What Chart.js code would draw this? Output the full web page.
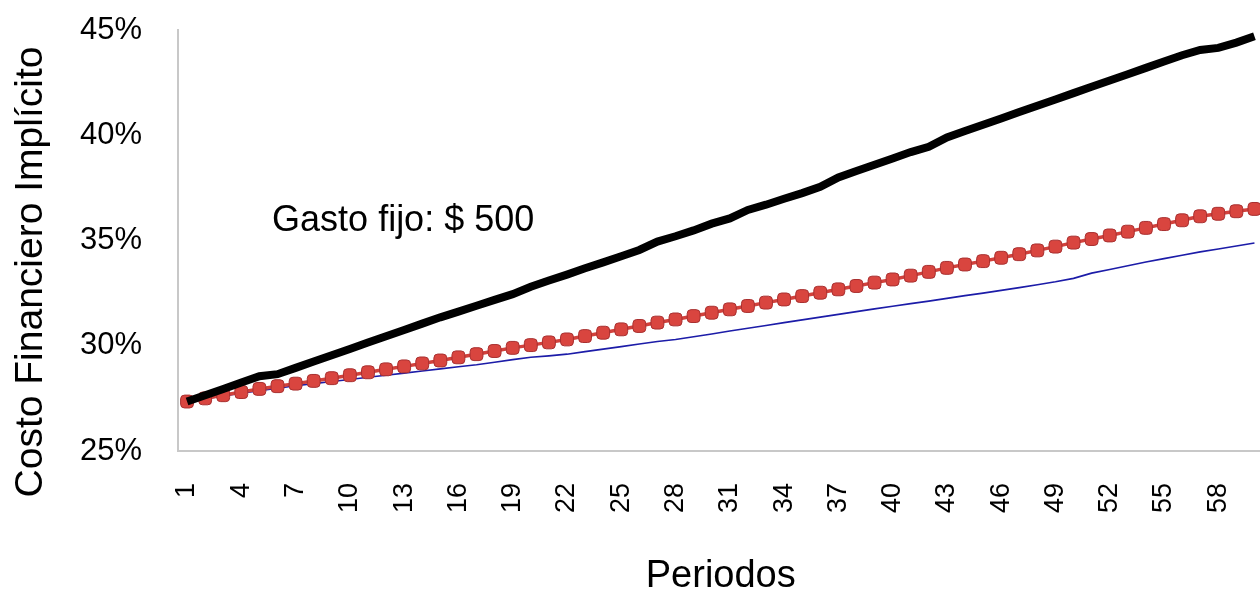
<!DOCTYPE html>
<html>
<head>
<meta charset="utf-8">
<script src="https://cdn.jsdelivr.net/npm/chart.js@4/dist/chart.umd.min.js"></script>
<style>
  html, body { margin: 0; padding: 0; background: #ffffff; overflow: hidden; }
  #wrap { position: relative; width: 1272px; height: 592px; }
</style>
</head>
<body>
<div id="wrap"><canvas id="c"></canvas></div>
<script>
const periods = [1,2,3,4,5,6,7,8,9,10,11,12,13,14,15,16,17,18,19,20,21,22,23,24,25,26,27,28,29,30,
  31,32,33,34,35,36,37,38,39,40,41,42,43,44,45,46,47,48,49,50,51,52,53,54,55,56,57,58,59,60];
const xTickLabels = [1,4,7,10,13,16,19,22,25,28,31,34,37,40,43,46,49,52,55,58];
const yTicks = [25,30,35,40,45];

const blackSeries = [27.35,27.65,27.95,28.25,28.55,28.65,28.95,29.25,29.55,29.85,
  30.15,30.45,30.75,31.05,31.35,31.62,31.90,32.18,32.45,32.80,
  33.10,33.38,33.68,33.96,34.25,34.55,34.95,35.20,35.48,35.80,
  36.05,36.45,36.70,36.98,37.25,37.55,38.00,38.30,38.60,38.90,
  39.20,39.45,39.90,40.20,40.50,40.80,41.10,41.40,41.70,42.00,
  42.30,42.60,42.90,43.20,43.50,43.80,44.05,44.15,44.40,44.70];
const redSeries = [27.35,27.50,27.65,27.80,27.95,28.08,28.20,28.33,28.46,28.60,
  28.74,28.88,29.02,29.16,29.30,29.45,29.60,29.75,29.90,30.03,
  30.16,30.30,30.46,30.62,30.78,30.94,31.10,31.25,31.41,31.57,
  31.73,31.89,32.05,32.20,32.36,32.52,32.68,32.84,33.00,33.15,
  33.33,33.51,33.70,33.86,34.02,34.18,34.35,34.53,34.71,34.90,
  35.07,35.24,35.42,35.60,35.78,35.96,36.15,36.27,36.39,36.50];
const blueSeries = [27.35,27.48,27.61,27.74,27.86,27.98,28.10,28.20,28.30,28.40,
  28.50,28.60,28.70,28.80,28.90,29.00,29.10,29.22,29.34,29.45,
  29.52,29.60,29.72,29.84,29.96,30.08,30.20,30.30,30.43,30.56,
  30.70,30.83,30.96,31.10,31.23,31.36,31.49,31.62,31.75,31.88,
  32.00,32.12,32.25,32.38,32.50,32.63,32.76,32.90,33.04,33.20,
  33.45,33.62,33.80,33.98,34.14,34.30,34.46,34.60,34.74,34.88];

const annotationText = 'Gasto fijo: $ 500';
const annotationAt = { xIndex: 4.7, yValue: 35.9 };
const yTitleText = 'Costo Financiero Implícito';
const xTitleText = 'Periodos';

const FONT = "'Liberation Sans', Arial, sans-serif";

const textPlugin = {
  id: 'texts',
  afterDraw(chart) {
    const ctx = chart.ctx;
    const x = chart.scales.x.getPixelForValue(annotationAt.xIndex);
    const y = chart.scales.y.getPixelForValue(annotationAt.yValue);
    ctx.save();
    ctx.font = '36px ' + FONT;
    ctx.fillStyle = '#000000';
    ctx.textAlign = 'left';
    ctx.textBaseline = 'middle';
    ctx.fillText(annotationText, x, y);
    ctx.restore();
    // y axis title (rotated)
    ctx.save();
    ctx.translate(31, 272);
    ctx.rotate(-Math.PI / 2);
    ctx.font = '39px ' + FONT;
    ctx.fillStyle = '#000000';
    ctx.textAlign = 'center';
    ctx.textBaseline = 'middle';
    ctx.fillText(yTitleText, 0, 0);
    ctx.restore();
  }
};

new Chart(document.getElementById('c'), {
  type: 'line',
  data: {
    labels: periods.map(String),
    datasets: [
      { data: blackSeries, borderColor: '#000000', borderWidth: 8, pointRadius: 0, tension: 0, order: 0 },
      { data: redSeries, borderColor: '#d2413c', borderWidth: 3.5, pointRadius: 7.5, pointStyle: 'rectRounded',
        pointBackgroundColor: '#d9453f', pointBorderColor: '#a83030', pointBorderWidth: 1, tension: 0, order: 1 },
      { data: blueSeries, borderColor: '#1c1ca8', borderWidth: 1.6, pointRadius: 0, tension: 0, order: 2 }
    ]
  },
  options: {
    responsive: true,
    maintainAspectRatio: false,
    animation: false,
    events: [],
    layout: { padding: { top: 30, right: 0, bottom: 0, left: 0 } },
    plugins: { legend: { display: false }, tooltip: { enabled: false } },
    scales: {
      x: {
        type: 'category',
        offset: true,
        grid: { display: false, drawTicks: true, tickLength: 32 },
        border: { display: true, color: '#c8c8c8', width: 2 },
        ticks: {
          autoSkip: false, minRotation: 90, maxRotation: 90, padding: 0,
          color: '#000000', font: { family: FONT, size: 27, lineHeight: 0.2 },
          callback: function(v, i) { const p = periods[i]; return xTickLabels.includes(p) ? String(p) : ''; }
        },
        title: { display: true, text: xTitleText, color: '#000000', font: { family: FONT, size: 38, lineHeight: 0.8 }, padding: { top: 0, bottom: 0 } },
        afterFit: s => { s.height = 141; }
      },
      y: {
        min: 25, max: 45,
        afterBuildTicks: s => { s.ticks = yTicks.map(v => ({ value: v })); },
        grid: { display: false, drawTicks: true, tickLength: 36 },
        border: { display: true, color: '#c8c8c8', width: 2 },
        ticks: { padding: 0, color: '#000000', font: { family: FONT, size: 31 }, callback: v => v + '%' },
        title: { display: false },
        afterFit: s => { s.width = 178; }
      }
    }
  },
  plugins: [textPlugin]
});
</script>
</body>
</html>
